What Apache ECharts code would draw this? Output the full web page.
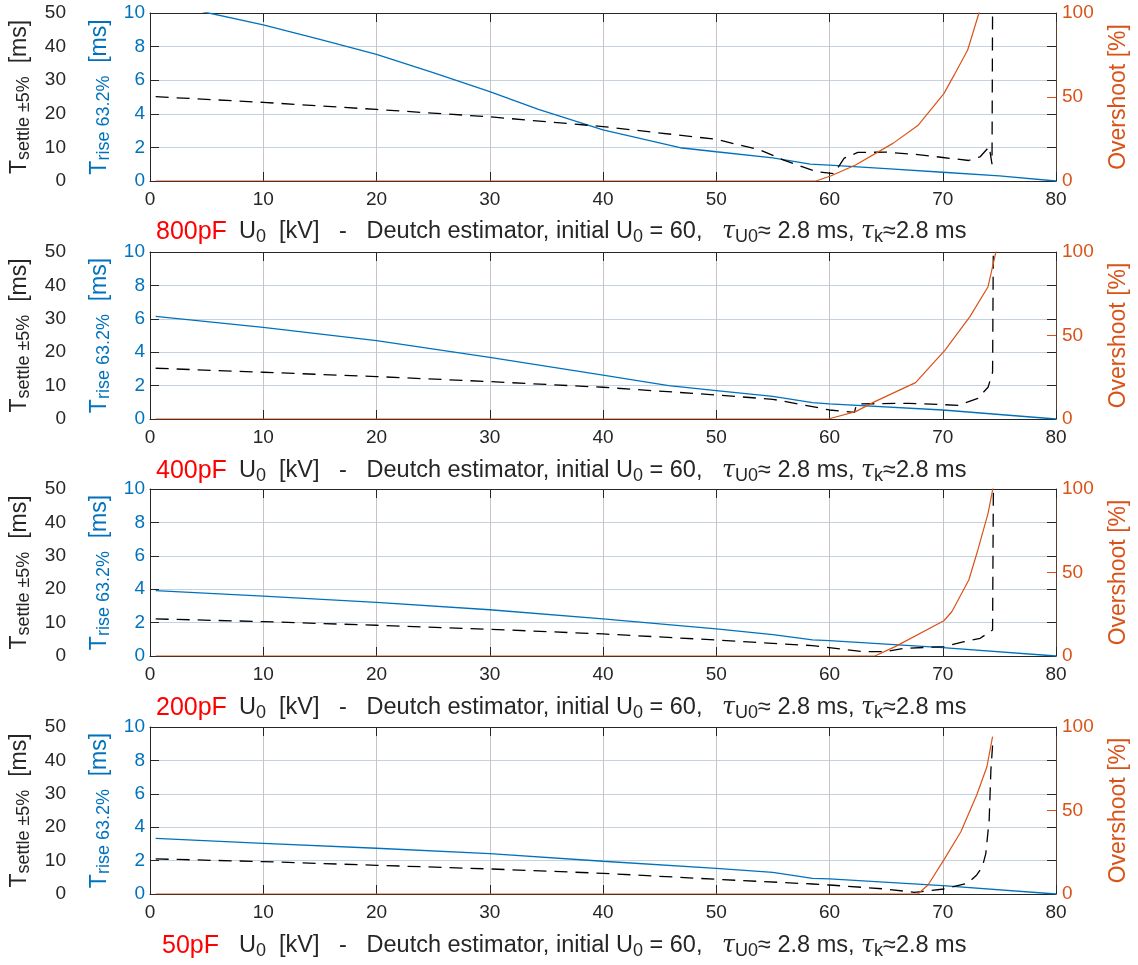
<!DOCTYPE html>
<html>
<head>
<meta charset="utf-8">
<script src="https://cdn.jsdelivr.net/npm/echarts@6/dist/echarts.min.js"></script>
<style>
  html, body { margin: 0; padding: 0; background: #ffffff; }
  #chart { width: 1138px; height: 965px; }
</style>
</head>
<body>
<div id="chart"></div>
<script>
// Capacitance cases, one panel each (top to bottom)
const capacitances = ['800pF', '400pF', '200pF', '50pF'];

// Axis ranges / ticks
const uRange = [0, 80, 10];          // U0 [kV]
const riseRange = [0, 10, 2];        // T rise 63.2% [ms]
const settleRange = [0, 50, 10];     // T settle ±5% [ms]
const overshootRange = [0, 100, 50]; // Overshoot [%]

// ---- 800 pF ----  [U0 kV, value]
const rise800 = [[0.5,10.7],[5,10.03],[10,9.29],[15,8.43],[20,7.54],[25,6.45],[30,5.32],[34.3,4.27],[40,3.04],[46.8,1.98],[50,1.74],[55,1.38],[58.3,1.01],[60,0.95],[65,0.74],[70,0.52],[75,0.3],[80,0]];
const settle800 = [[0.5,25.1],[10,23.4],[20,21.3],[30,19.1],[40,16.2],[50,12.4],[53.9,9.2],[55.9,6.3],[58.8,2.8],[60.4,2.2],[61.3,6.8],[62.5,8.5],[65,8.6],[68,7.8],[70,7.0],[72.3,6.1],[73.3,7.2],[74.1,10.2],[74.35,5.0],[74.45,100]];
const overshoot800 = [[0.5,0],[58.8,0],[60.1,3.0],[62.3,9.5],[65.6,22.4],[67.8,33],[70.1,52],[71.0,63],[72.2,78],[73.2,100],[73.5,106]];

// ---- 400 pF ----
const rise400 = [[0.5,6.15],[10,5.49],[20,4.69],[30,3.69],[40,2.63],[45.8,2.0],[50,1.7],[55,1.35],[58.5,0.98],[60,0.9],[70,0.54],[80,0]];
const settle400 = [[0.5,15.2],[10,14.0],[20,12.7],[30,11.2],[40,9.5],[50,7.2],[55,5.9],[58.5,3.7],[60,2.7],[62.2,2.0],[62.4,4.5],[67,4.7],[71.4,4.1],[73.1,6.2],[74.0,9.5],[74.4,14],[74.55,100]];
const overshoot400 = [[0.5,0],[59.9,0],[62.3,4.4],[64.0,10.4],[67.6,21.8],[70.2,41.3],[72.4,61.3],[74.0,79.2],[74.4,91.2],[74.7,100.2],[74.8,104]];

// ---- 200 pF ----
const rise200 = [[0.5,3.91],[10,3.59],[20,3.21],[30,2.77],[40,2.22],[50,1.62],[55,1.28],[58.5,0.96],[60,0.92],[70,0.5],[80,0]];
const settle200 = [[0.5,11.1],[10,10.3],[20,9.2],[30,8.0],[40,6.6],[50,4.8],[58.5,3.1],[62.9,1.3],[64.9,1.3],[66.6,2.3],[70.1,2.8],[71.8,4.2],[73.3,5.3],[74.4,7.8],[74.55,100]];
const overshoot200 = [[0.5,0],[64.0,0],[65.8,5.6],[70.1,21.1],[70.8,26.5],[72.3,45.5],[73.1,63.5],[74.0,85.4],[74.4,99.4],[74.5,103]];

// ---- 50 pF ----
const rise50 = [[0.5,3.33],[10,3.03],[20,2.74],[30,2.42],[40,1.96],[50,1.54],[55,1.3],[58.5,0.94],[60,0.9],[70,0.5],[80,0]];
const settle50 = [[0.5,10.5],[10,9.7],[20,8.6],[30,7.5],[40,6.2],[50,4.4],[58.5,3.0],[60,2.7],[64.9,1.5],[67.5,0.5],[70.1,1.5],[72.2,3.2],[73.0,5.7],[73.5,8.2],[73.8,12.1],[74.1,22.2],[74.25,37],[74.4,44.5]];
const overshoot50 = [[0.5,0],[67.8,0],[68.7,5.4],[70.1,20.4],[71.6,37.3],[73.0,59.3],[73.9,76.2],[74.4,94.2]];

const riseSets = [rise800, rise400, rise200, rise50];
const settleSets = [settle800, settle400, settle200, settle50];
const overshootSets = [overshoot800, overshoot400, overshoot200, overshoot50];

// Colours and fonts
const BLUE = '#0072BD';
const ORANGE = '#D95319';
const INK = '#262626';
const FONT = '"Liberation Sans", Arial, Helvetica, sans-serif';

// Panel geometry
const gridTops = [13, 252, 489, 727];
const gridH = 167;
const gridLeft = 147;
const gridRight = 75;

const grids = [], xAxes = [], yAxes = [], series = [], titles = [];

function axisName(color) {
  return {
    color: color, fontFamily: FONT,
    rich: {
      t: { fontSize: 23, color: color, fontFamily: FONT, lineHeight: 27 },
      s: { fontSize: 18, color: color, fontFamily: FONT, lineHeight: 18, verticalAlign: 'bottom' }
    }
  };
}

const labelRich = {
  c: { fontSize: 25, color: '#ff0000', fontFamily: FONT, fontWeight: 'normal', lineHeight: 28 },
  t: { fontSize: 23.5, color: INK, fontFamily: FONT, fontWeight: 'normal', lineHeight: 28 },
  g: { fontSize: 23.5, color: INK, fontFamily: '"DejaVu Serif", serif', fontStyle: 'italic', fontWeight: 'normal', lineHeight: 28 },
  u: { fontSize: 18, color: INK, fontFamily: FONT, fontWeight: 'normal', lineHeight: 18, verticalAlign: 'bottom' }
};

capacitances.forEach((cap, i) => {
  grids.push({ left: gridLeft, right: gridRight, top: gridTops[i], height: i === 0 ? 168 : gridH, containLabel: false });

  // bottom U0 axis with labels and vertical grid
  xAxes.push({
    gridIndex: i, type: 'value', position: 'bottom',
    min: uRange[0], max: uRange[1], interval: uRange[2],
    axisLine: { show: true, onZero: false, lineStyle: { color: INK, width: 1 } },
    axisTick: { show: true, inside: true, length: 9, lineStyle: { color: INK, width: 1 } },
    axisLabel: { color: INK, fontSize: 19, fontFamily: FONT, margin: 9 },
    splitLine: { show: true, lineStyle: { color: '#c6c6c6', width: 1 } }
  });
  // top frame with ticks
  xAxes.push({
    gridIndex: i, type: 'value', position: 'top',
    min: uRange[0], max: uRange[1], interval: uRange[2],
    axisLine: { show: true, onZero: false, lineStyle: { color: INK, width: 1 } },
    axisTick: { show: true, inside: true, length: 9, lineStyle: { color: INK, width: 1 } },
    axisLabel: { show: false },
    splitLine: { show: false }
  });

  // rise time axis (inner left, blue)
  yAxes.push({
    gridIndex: i, type: 'value', position: 'left',
    min: riseRange[0], max: riseRange[1], interval: riseRange[2],
    axisLine: { show: true, onZero: false, lineStyle: { color: INK, width: 1 } },
    axisTick: { show: true, inside: true, length: 9, lineStyle: { color: INK, width: 1 } },
    axisLabel: { color: BLUE, fontSize: 19, fontFamily: FONT, margin: 5 },
    splitLine: { show: true, lineStyle: { color: '#c5d2dd', width: 1 } },
    name: '{t|T}{s|rise 63.2%}{t|  [ms]}',
    nameLocation: 'middle', nameRotate: 90, nameGap: 37,
    nameTextStyle: axisName(BLUE)
  });
  // settle time axis (outer left, black)
  yAxes.push({
    gridIndex: i, type: 'value', position: 'left', offset: 72,
    min: settleRange[0], max: settleRange[1], interval: settleRange[2],
    axisLine: { show: false, onZero: false }, axisTick: { show: false },
    axisLabel: { color: INK, fontSize: 19, fontFamily: FONT, margin: 12 },
    splitLine: { show: false },
    name: '{t|T}{s|settle ±5%}{t|  [ms]}',
    nameLocation: 'middle', nameRotate: 90, nameGap: 45,
    nameTextStyle: axisName(INK)
  });
  // overshoot axis (right, orange)
  yAxes.push({
    gridIndex: i, type: 'value', position: 'right',
    min: overshootRange[0], max: overshootRange[1], interval: overshootRange[2],
    axisLine: { show: false, onZero: false },
    axisTick: { show: true, inside: true, length: 9, lineStyle: { color: ORANGE, width: 1 } },
    axisLabel: { color: ORANGE, fontSize: 19, fontFamily: FONT, margin: 6 },
    splitLine: { show: false },
    name: 'Overshoot [%]',
    nameLocation: 'middle', nameRotate: 90, nameGap: 51,
    nameTextStyle: { color: ORANGE, fontSize: 23, fontFamily: FONT }
  });
  // right frame with the left-scale ticks
  yAxes.push({
    gridIndex: i, type: 'value', position: 'right',
    min: riseRange[0], max: riseRange[1], interval: riseRange[2],
    axisLine: { show: true, onZero: false, lineStyle: { color: '#5a3c2c', width: 1 } },
    axisTick: { show: true, inside: true, length: 9, lineStyle: { color: INK, width: 1 } },
    axisLabel: { show: false },
    splitLine: { show: false }
  });

  const common = { type: 'line', symbol: 'none', showSymbol: false, clip: true, animation: false, xAxisIndex: 2 * i };
  series.push(Object.assign({}, common, {
    name: 'T rise ' + cap, yAxisIndex: 4 * i, data: riseSets[i], z: 3,
    lineStyle: { color: BLUE, width: 1.3 }
  }));
  series.push(Object.assign({}, common, {
    name: 'T settle ' + cap, yAxisIndex: 4 * i + 1, data: settleSets[i], z: 4,
    lineStyle: { color: '#000000', width: 1.3, type: [13, 8] }
  }));
  series.push(Object.assign({}, common, {
    name: 'Overshoot ' + cap, yAxisIndex: 4 * i + 2, data: overshootSets[i], z: 5,
    lineStyle: { color: ORANGE, width: 1.2 }
  }));

  // x label line under the panel: capacitance tag + axis description
  const bottom = gridTops[i] + gridH;
  titles.push({
    left: cap.length === 4 ? 157 : 151,
    top: bottom + 33,
    text: '{c|' + cap + '}',
    textStyle: { fontWeight: 'normal', rich: labelRich }
  });
  titles.push({
    left: 234,
    top: bottom + 33,
    text: '{t|U}{u|0}{t|  [kV]   -   Deutch estimator, initial U}{u|0}{t| = 60,   }{g|τ}{u|U0}{t|≈ 2.8 ms, }{g|τ}{u|k}{t|≈2.8 ms}',
    textStyle: { fontWeight: 'normal', rich: labelRich }
  });
});

const chart = echarts.init(document.getElementById('chart'), null, { renderer: 'canvas' });
chart.setOption({
  animation: false,
  backgroundColor: '#ffffff',
  title: titles,
  grid: grids,
  xAxis: xAxes,
  yAxis: yAxes,
  series: series
});
</script>
</body>
</html>
